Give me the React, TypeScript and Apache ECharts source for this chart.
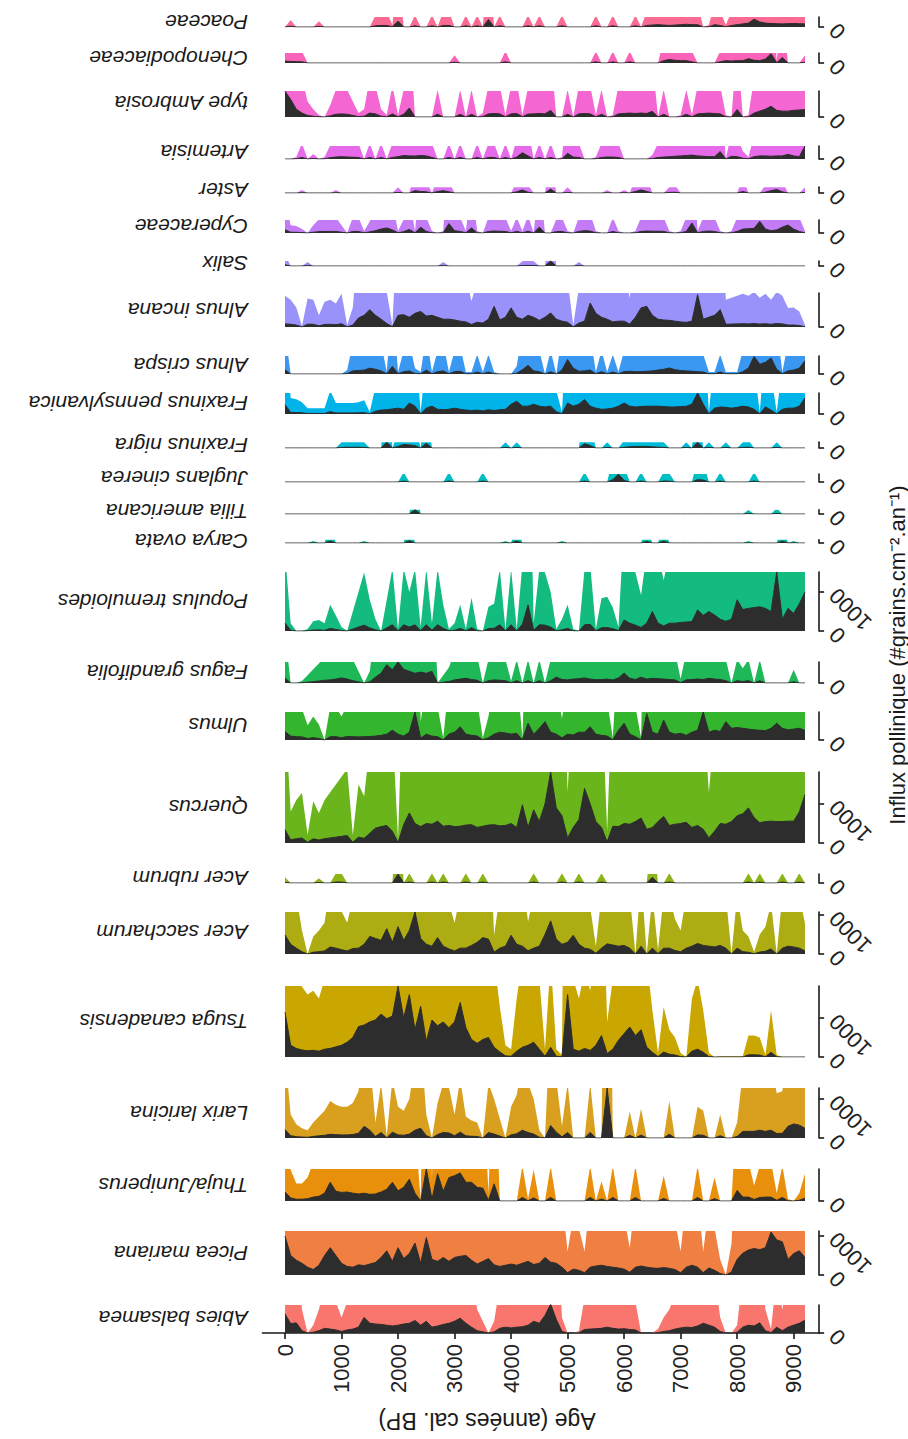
import { useEffect, useRef } from "react";
import * as echarts from "echarts";

// Sample ages, years cal. BP
const AGES = [
  0, 100, 200, 300, 400, 500, 600, 700, 800, 900,
  1000, 1100, 1200, 1300, 1400, 1500, 1600, 1700, 1800, 1900,
  2000, 2100, 2200, 2300, 2400, 2500, 2600, 2700, 2800, 2900,
  3000, 3100, 3200, 3300, 3400, 3500, 3600, 3700, 3800, 3900,
  4000, 4100, 4200, 4300, 4400, 4500, 4600, 4700, 4800, 4900,
  5000, 5100, 5200, 5300, 5400, 5500, 5600, 5700, 5800, 5900,
  6000, 6100, 6200, 6300, 6400, 6500, 6600, 6700, 6800, 6900,
  7000, 7100, 7200, 7300, 7400, 7500, 7600, 7700, 7800, 7900,
  8000, 8100, 8200, 8300, 8400, 8500, 8600, 8700, 8800, 8900,
  9000, 9100, 9200,
];

const AGE_TICKS = [0, 1000, 2000, 3000, 4000, 5000, 6000, 7000, 8000, 9000];

// Pollen influx (grains.cm-2.an-1), one value per sample age
const ABIES = [
  490, 240, 260, 60, 0, 20, 60, 120, 100, 80,
  40, 80, 100, 150, 400, 250, 230, 220, 200, 180,
  200, 230, 250, 320, 200, 300, 150, 180, 220, 250,
  300, 380, 250, 150, 60, 30, 0, 30, 120, 150,
  130, 150, 160, 200, 300, 250, 450, 740, 350, 40,
  0, 0, 5, 90, 100, 110, 120, 150, 120, 100,
  110, 90, 80, 0, 0, 0, 10, 40, 60, 100,
  130, 150, 140, 180, 250, 200, 150, 40, 0, 0,
  20, 150, 200, 180, 260, 60, 10, 150, 60, 150,
  200, 250, 330,
];
const PICEA = [
  1000, 500, 380, 300, 200, 140, 250, 500, 700, 500,
  300, 220, 200, 260, 240, 280, 320, 450, 620, 350,
  700, 420, 550, 820, 300, 960, 400, 350, 450, 350,
  450, 480, 500, 380, 280, 350, 420, 260, 220, 250,
  280, 250, 300, 350, 270, 300, 450, 330, 300, 200,
  60, 150, 120, 60, 200, 230, 250, 220, 200, 180,
  150, 70, 200, 230, 200, 180, 170, 190, 170, 140,
  60, 200, 250, 200, 60, 180, 120, 40, 0, 80,
  400, 560, 640, 680, 650, 700, 1100, 900, 850, 400,
  550, 620, 450,
];
const THUJA = [
  230, 80, 45, 45, 60, 100, 120, 200, 480, 250,
  220, 230, 200, 180, 200, 170, 180, 230, 300, 480,
  260, 350, 560, 200, 0, 820, 53, 700, 250, 600,
  650, 720, 480, 480, 350, 330, 20, 440, 0, 0,
  0, 0, 90, 5, 80, 0, 0, 90, 0, 0,
  0, 0, 0, 0, 90, 0, 50, 0, 90, 0,
  0, 0, 90, 0, 0, 0, 0, 65, 0, 0,
  0, 0, 0, 90, 0, 0, 60, 0, 0, 0,
  270, 100, 100, 40, 90, 100, 100, 20, 90, 5,
  0, 20, 70,
];
const LARIX = [
  215, 60, 35, 25, 20, 40, 55, 70, 95, 85,
  80, 80, 90, 120, 300, 200, 40, 140, 5, 150,
  80, 70, 100, 200, 250, 60, 0, 90, 140, 130,
  60, 150, 55, 45, 40, 0, 140, 100, 50, 0,
  80, 110, 200, 140, 100, 20, 0, 320, 150, 30,
  140, 0, 0, 0, 140, 0, 0, 1282, 0, 0,
  0, 68, 0, 75, 0, 0, 0, 0, 95, 0,
  0, 0, 0, 80, 70, 0, 0, 60, 0, 0,
  40, 170, 170, 170, 200, 170, 200, 115, 120, 300,
  360, 330, 250,
];
const TSUGA = [
  1150, 300, 220, 180, 160, 170, 150, 200, 220, 260,
  300, 380, 500, 780, 820, 900, 950, 1100, 980, 1050,
  1820, 1000, 1600, 700, 1300, 400, 950, 800, 900, 750,
  900, 1400, 750, 450, 350, 450, 500, 250, 130, 30,
  20, 150, 250, 300, 380, 200, 20, 250, 20, 5,
  1600, 200, 150, 220, 170, 300, 550, 90, 200, 430,
  600, 770, 550, 700, 250, 120, 10, 128, 70, 50,
  10, 0, 150, 200, 120, 10, 0, 2, 2, 2,
  2, 2, 55, 55, 50, 5, 120, 5, 0, 0,
  0, 0, 0,
];
const ACER_SACCHARUM = [
  490, 250, 150, 60, 0, 45, 60, 80, 180, 150,
  110, 80, 140, 150, 250, 450, 400, 350, 650, 300,
  700, 350, 600, 1077, 400, 250, 200, 420, 200, 130,
  80, 150, 150, 220, 300, 420, 380, 49, 150, 200,
  480, 250, 200, 83, 150, 200, 500, 850, 380, 250,
  300, 480, 250, 150, 120, 20, 150, 260, 230, 200,
  220, 150, 0, 200, 0, 150, 10, 150, 150, 90,
  60, 150, 200, 270, 220, 200, 180, 220, 150, 0,
  150, 60, 45, 5, 50, 70, 130, 0, 150, 200,
  180, 150, 79,
];
const ACER_RUBRUM = [
  15, 0, 0, 0, 0, 0, 12, 0, 0, 25,
  25, 0, 0, 0, 0, 0, 0, 0, 0, 0,
  230, 0, 25, 0, 0, 0, 25, 0, 25, 0,
  0, 0, 25, 0, 0, 25, 0, 0, 0, 0,
  0, 0, 0, 0, 25, 0, 0, 0, 0, 25,
  0, 0, 25, 0, 0, 0, 25, 0, 0, 0,
  0, 0, 0, 0, 0, 145, 0, 0, 25, 0,
  0, 0, 0, 0, 0, 0, 0, 0, 0, 0,
  0, 0, 25, 0, 25, 0, 0, 0, 25, 0,
  0, 25, 0,
];
const QUERCUS = [
  340, 81, 110, 128, 21, 107, 77, 110, 130, 150,
  170, 190, 20, 150, 120, 250, 380, 420, 450, 300,
  10, 470, 770, 500, 420, 500, 480, 560, 430, 450,
  420, 430, 460, 470, 400, 430, 460, 470, 440, 450,
  500, 400, 980, 400, 850, 550, 1000, 1820, 900, 700,
  130, 400, 600, 1400, 1000, 550, 400, 30, 430, 420,
  500, 480, 550, 640, 350, 400, 550, 680, 450, 480,
  500, 530, 400, 450, 350, 130, 300, 500, 480, 550,
  700, 750, 900, 650, 520, 550, 560, 550, 550, 560,
  560, 800, 1240,
];
const ULMUS = [
  215, 100, 85, 80, 38, 60, 40, 0, 85, 85,
  60, 90, 85, 80, 85, 90, 100, 120, 150, 250,
  150, 100, 200, 718, 47, 150, 100, 85, 5, 150,
  200, 340, 150, 120, 100, 5, 60, 150, 200, 180,
  150, 170, 5, 430, 150, 300, 470, 200, 150, 55,
  150, 130, 200, 200, 340, 150, 120, 100, 5, 250,
  430, 150, 85, 5, 680, 200, 150, 510, 200, 150,
  170, 120, 200, 250, 718, 200, 250, 220, 470, 300,
  320, 300, 280, 260, 250, 240, 300, 430, 300, 260,
  280, 300, 250,
];
const FAGUS = [
  130, 0, 0, 5, 20, 35, 50, 70, 80, 100,
  130, 100, 60, 30, 0, 30, 150, 250, 470, 340,
  540, 350, 300, 250, 280, 250, 300, 0, 20, 40,
  80, 100, 120, 90, 70, 0, 60, 80, 70, 60,
  5, 60, 0, 60, 0, 60, 0, 60, 150, 90,
  80, 100, 110, 130, 100, 85, 90, 100, 80, 130,
  255, 120, 90, 150, 100, 120, 110, 100, 90, 80,
  10, 80, 90, 100, 90, 120, 100, 90, 60, 0,
  60, 38, 60, 0, 60, 0, 0, 0, 0, 0,
  34, 0, 0,
];
const POPULUS = [
  200, 20, 0, 0, 5, 25, 28, 20, 67, 40,
  10, 0, 50, 100, 150, 80, 30, 0, 80, 160,
  5, 160, 100, 160, 10, 160, 20, 160, 67, 5,
  20, 67, 5, 85, 5, 0, 62, 70, 160, 5,
  160, 5, 170, 670, 20, 160, 150, 100, 5, 30,
  67, 5, 0, 160, 170, 5, 84, 88, 60, 10,
  280, 200, 150, 92, 200, 500, 200, 130, 200, 200,
  220, 230, 240, 540, 400, 500, 410, 300, 250, 300,
  800, 550, 580, 600, 620, 580, 500, 1513, 300, 580,
  450, 700, 1000,
];
const CARYA = [
  0, 0, 0, 0, 0, 5, 0, 0, 50, 0,
  0, 0, 0, 0, 5, 0, 0, 0, 0, 0,
  0, 0, 60, 0, 0, 0, 0, 0, 0, 0,
  0, 0, 0, 0, 0, 0, 0, 0, 0, 5,
  0, 50, 0, 0, 0, 0, 0, 0, 0, 5,
  0, 0, 0, 0, 0, 0, 0, 0, 0, 0,
  0, 0, 0, 0, 40, 0, 0, 50, 0, 0,
  0, 0, 0, 0, 0, 0, 0, 0, 0, 0,
  0, 0, 5, 0, 0, 0, 0, 0, 50, 0,
  5, 0, 0,
];
const TILIA = [
  0, 0, 0, 0, 0, 0, 0, 0, 0, 0,
  0, 0, 0, 0, 0, 0, 0, 0, 0, 0,
  0, 0, 0, 110, 0, 0, 0, 0, 0, 0,
  0, 0, 0, 0, 0, 0, 0, 0, 0, 0,
  0, 0, 0, 0, 0, 0, 0, 0, 0, 0,
  0, 0, 0, 0, 0, 0, 0, 0, 0, 0,
  0, 0, 0, 0, 0, 0, 0, 0, 0, 0,
  0, 0, 0, 0, 0, 0, 0, 0, 0, 0,
  0, 0, 10, 0, 0, 0, 0, 15, 0, 0,
  0, 0, 0,
];
const JUGLANS = [
  0, 0, 0, 0, 0, 0, 0, 0, 0, 0,
  0, 0, 0, 0, 0, 0, 0, 0, 0, 0,
  0, 25, 0, 0, 0, 0, 0, 0, 0, 25,
  0, 0, 0, 0, 0, 25, 0, 0, 0, 0,
  0, 0, 0, 0, 0, 0, 0, 0, 0, 0,
  0, 0, 0, 25, 0, 0, 0, 0, 60, 200,
  40, 0, 0, 25, 0, 0, 0, 25, 22, 0,
  0, 0, 0, 60, 50, 0, 0, 25, 0, 0,
  0, 0, 0, 25, 0, 0, 0, 0, 0, 0,
  0, 0, 0,
];
const FRAXINUS_NIGRA = [
  0, 0, 0, 0, 0, 0, 0, 0, 0, 0,
  15, 20, 20, 20, 15, 0, 0, 0, 150, 0,
  40, 90, 80, 60, 0, 120, 0, 0, 0, 0,
  0, 0, 0, 0, 0, 0, 0, 0, 0, 15,
  0, 15, 0, 0, 0, 0, 0, 0, 0, 0,
  0, 0, 0, 110, 60, 0, 0, 15, 0, 0,
  20, 30, 40, 40, 40, 30, 20, 15, 0, 0,
  0, 15, 0, 150, 0, 15, 0, 0, 15, 0,
  0, 15, 20, 0, 0, 0, 0, 15, 0, 0,
  0, 0, 0,
];
const FRAXINUS_PENN = [
  240, 41, 38, 30, 15, 15, 15, 15, 60, 28,
  28, 28, 28, 30, 35, 5, 70, 100, 110, 130,
  150, 120, 280, 200, 5, 150, 200, 120, 110, 120,
  150, 120, 100, 90, 100, 80, 110, 90, 110, 120,
  250, 325, 200, 200, 250, 200, 180, 200, 60, 5,
  280, 200, 250, 370, 200, 150, 120, 130, 150, 200,
  280, 200, 180, 190, 200, 200, 200, 190, 180, 180,
  190, 200, 250, 540, 250, 5, 150, 180, 170, 150,
  170, 200, 180, 120, 5, 180, 100, 5, 120, 150,
  150, 200, 410,
];
const ALNUS_CRISPA = [
  110, 0, 0, 0, 0, 0, 0, 0, 0, 0,
  0, 10, 80, 90, 100, 150, 120, 80, 5, 195,
  5, 60, 80, 15, 5, 100, 5, 60, 80, 5,
  60, 70, 5, 5, 50, 5, 50, 5, 0, 0,
  0, 20, 110, 220, 80, 60, 0, 60, 0, 100,
  370, 150, 70, 80, 100, 5, 60, 5, 50, 5,
  60, 70, 60, 60, 70, 80, 100, 120, 155, 110,
  90, 80, 70, 60, 50, 5, 5, 50, 5, 5,
  5, 60, 150, 450, 250, 300, 410, 120, 5, 80,
  100, 150, 340,
];
const ALNUS_INCANA = [
  80, 70, 50, 2, 73, 70, 30, 65, 70, 60,
  85, 5, 50, 230, 300, 445, 300, 200, 90, 5,
  300, 315, 250, 350, 400, 280, 300, 250, 200, 200,
  180, 150, 130, 66, 120, 100, 200, 530, 180, 250,
  490, 250, 200, 300, 250, 170, 250, 360, 200, 150,
  120, 5, 100, 150, 615, 350, 250, 200, 130, 150,
  150, 74, 250, 490, 530, 300, 200, 180, 170, 150,
  130, 120, 150, 830, 200, 250, 300, 445, 70, 75,
  80, 85, 80, 90, 75, 85, 70, 90, 80, 49,
  50, 40, 5,
];
const SALIX = [
  30, 0, 0, 0, 10, 0, 0, 0, 0, 0,
  0, 0, 0, 0, 0, 0, 0, 0, 0, 0,
  0, 0, 0, 0, 0, 0, 0, 0, 10, 0,
  0, 0, 0, 0, 0, 0, 0, 0, 0, 0,
  0, 0, 12, 15, 12, 0, 0, 130, 0, 0,
  0, 0, 10, 0, 0, 0, 0, 0, 0, 0,
  0, 0, 0, 0, 0, 0, 0, 0, 0, 0,
  0, 0, 0, 0, 0, 0, 0, 0, 0, 0,
  0, 0, 0, 0, 0, 0, 0, 0, 0, 0,
  0, 0, 0,
];
const CYPERACEAE = [
  85, 20, 18, 10, 0, 20, 35, 40, 40, 40,
  20, 0, 40, 40, 5, 30, 60, 100, 130, 80,
  5, 35, 90, 5, 150, 40, 5, 0, 5, 240,
  60, 40, 5, 130, 5, 0, 40, 50, 45, 40,
  5, 40, 5, 45, 0, 150, 0, 0, 35, 40,
  5, 0, 40, 60, 50, 5, 0, 0, 40, 5,
  0, 0, 5, 40, 50, 45, 45, 40, 5, 0,
  5, 40, 255, 5, 40, 50, 40, 5, 0, 5,
  40, 100, 110, 120, 300, 100, 60, 80, 150, 205,
  100, 40, 5,
];
const ASTER = [
  0, 0, 0, 8, 0, 0, 0, 0, 0, 8,
  0, 0, 0, 0, 0, 0, 0, 0, 0, 0,
  15, 0, 0, 60, 40, 30, 0, 40, 60, 30,
  0, 0, 0, 0, 0, 0, 0, 0, 0, 0,
  0, 30, 80, 20, 0, 0, 0, 100, 0, 0,
  15, 0, 0, 0, 0, 0, 0, 8, 0, 0,
  8, 0, 40, 80, 40, 0, 0, 0, 15, 20,
  0, 0, 0, 0, 0, 0, 0, 0, 0, 0,
  0, 40, 0, 0, 0, 20, 60, 90, 30, 0,
  0, 0, 15,
];
const ARTEMISIA = [
  0, 0, 5, 40, 0, 13, 0, 5, 35, 50,
  60, 50, 45, 40, 0, 40, 0, 40, 0, 40,
  60, 90, 80, 75, 90, 80, 40, 0, 0, 40,
  0, 40, 0, 0, 40, 0, 40, 40, 0, 40,
  0, 50, 160, 80, 0, 40, 0, 40, 0, 5,
  145, 50, 40, 0, 0, 5, 40, 50, 50, 40,
  0, 0, 0, 0, 0, 10, 40, 50, 60, 70,
  80, 90, 100, 80, 70, 60, 60, 190, 0, 70,
  60, 20, 5, 60, 80, 80, 70, 80, 80, 120,
  80, 60, 333,
];
const AMBROSIA = [
  660, 450, 200, 100, 40, 20, 5, 0, 30, 70,
  80, 70, 40, 10, 20, 100, 80, 20, 5, 80,
  5, 70, 230, 0, 0, 0, 0, 70, 0, 0,
  0, 70, 0, 70, 0, 10, 80, 90, 80, 5,
  80, 90, 5, 75, 80, 90, 80, 170, 0, 0,
  70, 0, 80, 90, 80, 5, 70, 0, 5, 80,
  90, 100, 90, 100, 90, 145, 0, 70, 0, 0,
  5, 70, 5, 80, 90, 100, 90, 80, 5, 0,
  190, 0, 5, 100, 150, 200, 275, 170, 150, 150,
  170, 180, 190,
];
const CHENOPODIACEAE = [
  50, 40, 35, 30, 0, 0, 0, 0, 0, 0,
  0, 0, 0, 0, 0, 0, 0, 0, 0, 0,
  0, 0, 0, 0, 0, 0, 0, 0, 0, 0,
  20, 0, 0, 0, 0, 0, 0, 0, 0, 30,
  0, 0, 0, 0, 0, 0, 0, 0, 0, 0,
  0, 0, 0, 0, 0, 30, 0, 0, 30, 0,
  0, 30, 0, 0, 0, 0, 0, 60, 90, 70,
  60, 60, 30, 0, 0, 0, 0, 30, 60, 50,
  60, 60, 110, 70, 60, 100, 240, 5, 140, 0,
  0, 0, 20,
];
const POACEAE = [
  0, 18, 0, 0, 0, 0, 15, 0, 0, 0,
  0, 0, 0, 0, 0, 0, 30, 40, 40, 5,
  150, 0, 0, 30, 0, 0, 30, 0, 40, 40,
  0, 0, 30, 0, 30, 0, 190, 0, 30, 0,
  0, 0, 0, 30, 0, 30, 0, 0, 0, 30,
  0, 0, 0, 0, 0, 30, 0, 0, 30, 0,
  0, 0, 30, 0, 40, 50, 60, 50, 40, 50,
  60, 70, 60, 60, 0, 5, 60, 40, 5, 40,
  60, 80, 100, 200, 130, 100, 90, 85, 80, 85,
  90, 85, 80,
];

// Taxa from the bottom panel to the top panel
const TAXA = [
  "Abies balsamea", "Picea mariana", "Thuja/Juniperus", "Larix laricina",
  "Tsuga canadensis", "Acer saccharum", "Acer rubrum", "Quercus", "Ulmus",
  "Fagus grandifolia", "Populus tremuloides", "Carya ovata", "Tilia americana",
  "Juglans cinerea", "Fraxinus nigra", "Fraxinus pennsylvanica", "Alnus crispa",
  "Alnus incana", "Salix", "Cyperaceae", "Aster", "Artemisia", "type Ambrosia",
  "Chenopodiaceae", "Poaceae",
];
const SERIES_VALUES = [
  ABIES, PICEA, THUJA, LARIX, TSUGA, ACER_SACCHARUM, ACER_RUBRUM, QUERCUS, ULMUS,
  FAGUS, POPULUS, CARYA, TILIA, JUGLANS, FRAXINUS_NIGRA, FRAXINUS_PENN, ALNUS_CRISPA,
  ALNUS_INCANA, SALIX, CYPERACEAE, ASTER, ARTEMISIA, AMBROSIA, CHENOPODIACEAE, POACEAE,
];
// Upper limit of each panel's influx axis
const AXIS_MAX = [
  718, 1128, 820, 1282, 1820, 1077, 230, 1820, 718, 540, 1513, 85, 110, 205,
  150, 540, 460, 870, 130, 333, 150, 333, 667, 256, 256,
];
const BIG_TICKS = [0, 1000];
const ZERO_TICK = [0];

const EXAGGERATION = 10;

// Styles and layout
const COLORS = [
  "#F8766D", "#F07F42", "#E8900C", "#D9A020", "#C9A700", "#ADAC12", "#8DB51A",
  "#6AB41C", "#33B52E", "#1EB858", "#14BB7E", "#00C0A0", "#00BFB0", "#00BFC4",
  "#00BBD8", "#00B4EA", "#3A98F2", "#9892FA", "#A88BF8", "#C47CF6", "#D876F2",
  "#E76AEB", "#F466D2", "#F963B8", "#FB6A93",
];
const DARK = "#2d2d2d";
const INK = "#1a1a1a";
const FONT = "'Liberation Sans', Arial, Helvetica, sans-serif";
const PX_PER_UNIT = 0.039;
const BASELINES = [
  1333, 1275, 1201, 1138, 1057, 954, 883, 843, 740, 683, 631, 543, 514, 482,
  448, 414, 374, 327, 266, 233, 193, 159, 117, 63, 27,
];
const PLOT_LEFT = 262.4;
const PLOT_RIGHT = 819.1;
const AGE_MIN = -400;
const AGE_MAX = 9450;

const plain = (v: number) => String(v);

function buildOption() {
  const grids: any[] = [];
  const xAxes: any[] = [];
  const yAxes: any[] = [];
  const series: any[] = [];
  const graphics: any[] = [];

  TAXA.forEach((name, i) => {
    const h = AXIS_MAX[i] * PX_PER_UNIT;
    const top = BASELINES[i] - h;
    grids.push({
      left: PLOT_LEFT,
      width: PLOT_RIGHT - PLOT_LEFT,
      top,
      height: h,
      containLabel: false,
    });
    const bottom = i === 0;
    xAxes.push({
      gridIndex: i,
      type: "value",
      min: AGE_MIN,
      max: AGE_MAX,
      show: bottom,
      axisLine: { show: true, onZero: false, lineStyle: { color: INK, width: 1.6 } },
      axisTick: {
        show: true,
        customValues: AGE_TICKS,
        length: 6,
        lineStyle: { color: INK, width: 1.6 },
      },
      axisLabel: {
        show: true,
        customValues: AGE_TICKS,
        formatter: plain,
        rotate: 90,
        margin: 11,
        fontSize: 22,
        fontFamily: FONT,
        color: "#222",
      },
      splitLine: { show: false },
    });
    const ticks = AXIS_MAX[i] >= 1000 ? BIG_TICKS : ZERO_TICK;
    yAxes.push({
      gridIndex: i,
      type: "value",
      position: "right",
      min: 0,
      max: AXIS_MAX[i],
      axisLine: { show: true, onZero: false, lineStyle: { color: INK, width: 1.6 } },
      axisTick: {
        show: true,
        customValues: ticks,
        length: 5,
        lineStyle: { color: INK, width: 1.6 },
      },
      axisLabel: {
        show: true,
        customValues: ticks,
        formatter: plain,
        rotate: 135,
        align: "right",
        verticalAlign: "middle",
        margin: 14,
        fontSize: 22,
        fontFamily: FONT,
        color: "#222",
      },
      splitLine: { show: false },
    });

    const values = SERIES_VALUES[i];
    // exaggerated curve, clipped by the panel
    series.push({
      type: "line",
      xAxisIndex: i,
      yAxisIndex: i,
      data: AGES.map((a, k) => [a, values[k] * EXAGGERATION]),
      symbol: "none",
      showSymbol: false,
      clip: true,
      silent: true,
      lineStyle: { width: 0, opacity: 0 },
      areaStyle: { color: COLORS[i], opacity: 1 },
      z: 2,
    });
    // measured influx
    series.push({
      type: "line",
      xAxisIndex: i,
      yAxisIndex: i,
      data: AGES.map((a, k) => [a, values[k]]),
      symbol: "none",
      showSymbol: false,
      clip: true,
      silent: true,
      lineStyle: { width: 1, color: DARK },
      areaStyle: { color: DARK, opacity: 1 },
      z: 3,
    });

    graphics.push({
      type: "text",
      x: 248,
      y: BASELINES[i] - h / 2,
      rotation: Math.PI,
      style: {
        text: name,
        fontSize: 21,
        fontStyle: "italic",
        fontFamily: FONT,
        fill: INK,
        align: "left",
        verticalAlign: "middle",
      },
    });
  });

  graphics.push({
    type: "text",
    x: 487,
    y: 1421,
    rotation: Math.PI,
    style: {
      text: "Age (années cal. BP)",
      fontSize: 23,
      fontFamily: FONT,
      fill: INK,
      align: "center",
      verticalAlign: "middle",
    },
  });
  graphics.push({
    type: "text",
    x: 897,
    y: 655,
    rotation: Math.PI / 2,
    style: {
      text: "Influx pollinique (#grains.cm\u207B\u00B2.an\u207B\u00B9)",
      fontSize: 22,
      fontFamily: FONT,
      fill: INK,
      align: "center",
      verticalAlign: "middle",
    },
  });

  return {
    animation: false,
    backgroundColor: "#ffffff",
    grid: grids,
    xAxis: xAxes,
    yAxis: yAxes,
    series,
    graphic: graphics,
  };
}

export default function App() {
  const ref = useRef<HTMLDivElement>(null);
  useEffect(() => {
    if (!ref.current) return;
    const chart = echarts.init(ref.current, undefined, { renderer: "svg" });
    chart.setOption(buildOption() as any);
    return () => chart.dispose();
  }, []);
  return (
    <div
      ref={ref}
      style={{ position: "absolute", left: 0, top: 0, width: 908, height: 1439 }}
    />
  );
}
